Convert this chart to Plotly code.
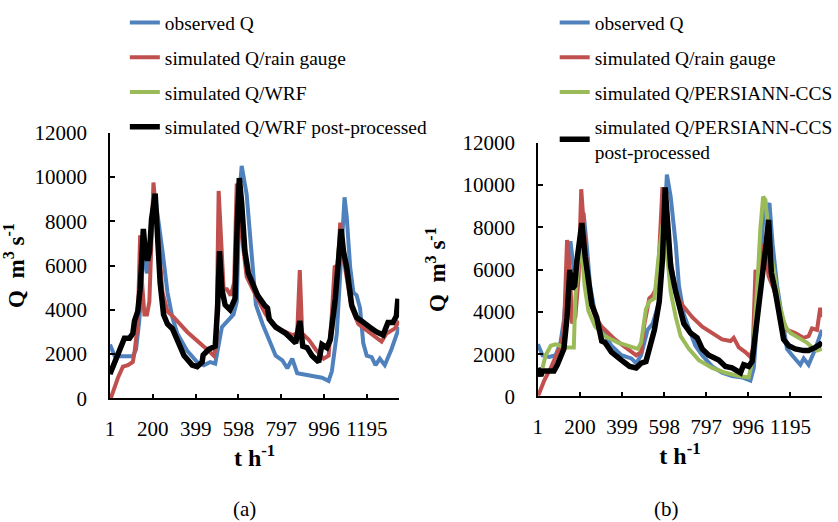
import plotly.graph_objects as go

FONT = "Liberation Serif"
TICK_VALS = [1, 200, 399, 598, 797, 996, 1195]
TICK_TEXT = ["1", "200", "399", "598", "797", "996", "1195"]
Y_TICKS = [0, 2000, 4000, 6000, 8000, 10000, 12000]
Y_TICK_TEXT = ["0", "2000", "4000", "6000", "8000", "10000", "12000"]

# ---------------- Panel (a) ----------------
obs_a_t = [1, 22, 38, 107, 122, 137, 145, 157, 173, 184, 199, 215, 245, 268, 291, 314, 360, 406, 437, 467,
           490, 506, 521, 575, 590, 605, 613, 636, 667, 679, 710, 741, 771, 802, 825, 848, 871, 910, 956, 986,
           1017, 1032, 1055, 1078, 1091, 1101, 1117, 1132, 1147, 1163, 1178, 1194, 1217, 1235, 1255, 1278,
           1309, 1345]
obs_a_q = [2430, 1930, 1900, 1900, 2215, 3500, 4650, 6790, 5650, 6220, 8080, 8800, 6650, 4790, 3650, 2930,
           2145, 1640, 1500, 1640, 1570, 2360, 3220, 3790, 4360, 9500, 10500, 9220, 5220, 4220, 3360, 2650,
           1930, 1720, 1360, 1790, 1140, 1070, 1000, 930, 790, 1220, 2930, 6650, 9080, 8220, 5930, 4790,
           4650, 4080, 2500, 1930, 1860, 1500, 1790, 1500, 2220, 3220]

rg_a_t = [1, 7, 38, 61, 84, 107, 115, 130, 141, 150, 161, 173, 184, 191, 203, 214, 230, 245, 268, 299,
          360, 421, 460, 483, 495, 506, 518, 529, 544, 562, 578, 590, 605, 636, 664, 695, 725, 756, 802,
          848, 871, 883, 894, 925, 956, 994, 1017, 1032, 1045, 1060, 1071, 1081, 1101, 1124, 1155, 1194,
          1232, 1263, 1286, 1324, 1345]
rg_a_q = [100, 70, 930, 1430, 1500, 1640, 2070, 3360, 7360, 5220, 3790, 3790, 4360, 6650, 9750, 8510,
          6650, 4790, 3930, 3650, 3000, 2500, 2145, 1930, 2360, 9370, 6650, 4930, 4930, 4650, 5220, 9700,
          8080, 5500, 4930, 4360, 3790, 3360, 3070, 2860, 2930, 5790, 2930, 2650, 2220, 1790, 1930, 3790,
          5930, 6000, 7940, 6650, 5500, 4080, 3360, 3070, 2790, 2570, 2930, 3150, 3500]

pp_a_t = [1, 22, 53, 68, 92, 107, 115, 130, 141, 150, 156, 165, 176, 185, 194, 211, 222, 234, 250, 268,
          291, 314, 345, 383, 406, 429, 434, 460, 490, 501, 510, 521, 536, 559, 582, 593, 602, 613, 628,
          644, 667, 687, 718, 733, 741, 771, 818, 864, 883, 897, 917, 940, 971, 986, 1009, 1025, 1048,
          1063, 1075, 1086, 1101, 1124, 1147, 1170, 1194, 1217, 1240, 1270, 1293, 1316, 1332, 1339]
pp_a_q = [1100, 1640, 2360, 2720, 2720, 2930, 3500, 3930, 4930, 6650, 7650, 6650, 6220, 6650, 8080, 9250,
          7360, 5220, 3790, 3360, 3150, 2650, 1930, 1500, 1430, 1640, 1960, 2220, 2360, 4080, 6650, 4930,
          4220, 4000, 4500, 8080, 9950, 8800, 6650, 5650, 5080, 4650, 4220, 4080, 3580, 3220, 2930, 2500,
          3500, 2360, 2290, 1930, 1640, 2430, 2290, 2650, 4500, 6650, 7650, 6650, 5930, 4220, 3650, 3500,
          3290, 3150, 3000, 2860, 3430, 3430, 3720, 4500]

# WRF series is hidden underneath the post-processed line in panel (a)
wrf_a_t = list(pp_a_t)
wrf_a_q = list(pp_a_q)

# ---------------- Panel (b) ----------------
obs_b_t = [1, 23, 54, 85, 108, 124, 143, 155, 171, 186, 202, 217, 233, 248, 272, 303, 349, 396, 443, 466,
           489, 520, 544, 575, 595, 611, 629, 653, 668, 691, 723, 746, 778, 825, 872, 919, 967, 1006, 1022,
           1037, 1053, 1069, 1096, 1111, 1132, 1155, 1179, 1203, 1226, 1242, 1258, 1281, 1313, 1344]
obs_b_q = [2470, 1950, 1870, 1950, 2550, 3600, 5990, 7340, 5990, 6440, 7640, 8690, 7040, 5240, 3890, 3150,
           2400, 1950, 1800, 1570, 1950, 3150, 3450, 4490, 7190, 10490, 9440, 7190, 5240, 3890, 3000, 2400,
           1950, 1420, 1120, 970, 900, 750, 1350, 3450, 6440, 8690, 9140, 7190, 5240, 3750, 2250, 1950,
           1650, 1500, 1800, 1500, 2250, 3150]

rg_b_t = [1, 4, 31, 62, 101, 124, 139, 152, 163, 178, 194, 206, 219, 233, 248, 272, 303, 365, 427, 466,
          489, 505, 528, 544, 567, 590, 606, 629, 652, 683, 731, 778, 825, 872, 912, 927, 951, 982, 1006,
          1017, 1030, 1042, 1058, 1077, 1092, 1116, 1147, 1179, 1218, 1258, 1281, 1297, 1321, 1336, 1344]
rg_b_q = [150, 75, 750, 1350, 2250, 3000, 7400, 5990, 3450, 3750, 5690, 9800, 7940, 5990, 4490, 3750,
          3300, 2700, 2250, 1950, 2100, 3450, 4640, 4790, 5240, 9900, 7940, 6440, 4940, 4340, 3750, 3300,
          3000, 2700, 2620, 2770, 2320, 2100, 1870, 2250, 5990, 5540, 7190, 6740, 5690, 5090, 3890, 3150,
          3000, 2770, 2850, 3220, 3150, 4190, 3750]

sat_b_t = [23, 38, 62, 85, 108, 139, 171, 178, 194, 206, 222, 240, 272, 318, 380, 443, 474, 489, 512, 528,
           552, 570, 590, 598, 614, 629, 653, 676, 715, 762, 825, 888, 951, 998, 1014, 1037, 1053, 1066,
           1077, 1092, 1116, 1140, 1171, 1195, 1234, 1273, 1297, 1321, 1344]
sat_b_q = [1350, 1950, 2400, 2470, 2400, 2320, 2320, 4640, 6440, 7190, 5240, 4040, 3300, 2850, 2550, 2320,
           2250, 2550, 4120, 4490, 4640, 6440, 8100, 8200, 6440, 4940, 3750, 2850, 2250, 1720, 1350, 1120,
           970, 900, 1650, 4940, 7940, 9450, 9290, 7490, 5990, 4490, 3300, 3000, 2770, 2550, 2320, 2170,
           2250]

pp_b_t = [1, 15, 23, 46, 77, 93, 108, 124, 139, 152, 163, 175, 186, 209, 225, 240, 256, 279, 295, 303, 318,
          349, 396, 435, 466, 489, 512, 528, 552, 575, 590, 603, 614, 629, 653, 668, 691, 723, 754, 778,
          809, 856, 888, 919, 959, 974, 998, 1014, 1037, 1061, 1080, 1092, 1105, 1124, 1147, 1163, 1187,
          1218, 1258, 1281, 1313, 1336, 1345]
pp_b_q = [1350, 970, 1200, 1200, 1200, 1500, 1950, 2250, 3750, 5990, 5090, 5240, 6440, 8200, 6590, 5240,
          4340, 3750, 3150, 2620, 2550, 2100, 1720, 1420, 1350, 1570, 1650, 2250, 3150, 4490, 6440, 9890,
          7940, 6140, 4940, 4340, 3450, 3000, 2770, 2250, 1950, 1720, 1420, 1350, 1120, 1500, 1420, 1650,
          3450, 5390, 7190, 8350, 5840, 4940, 3750, 2700, 2400, 2250, 2170, 2170, 2320, 2470, 2400]

BLUE = "#4F81BD"
RED = "#C0504D"
GREEN = "#9BBB59"
BLACK = "#000000"

fig = go.Figure()


def add(t, q, name, color, width, xa, ya, legend):
    fig.add_trace(go.Scatter(
        x=t, y=q, mode="lines", name=name,
        line=dict(color=color, width=width),
        xaxis=xa, yaxis=ya, legend=legend, legendgroup=legend + name,
    ))


add(obs_a_t, obs_a_q, "observed Q", BLUE, 4, "x", "y", "legend")
add(rg_a_t, rg_a_q, "simulated Q/rain gauge", RED, 4, "x", "y", "legend")
add(wrf_a_t, wrf_a_q, "simulated Q/WRF", GREEN, 4, "x", "y", "legend")
add(pp_a_t, pp_a_q, "simulated Q/WRF post-processed", BLACK, 5.5, "x", "y", "legend")

add(obs_b_t, obs_b_q, "observed Q", BLUE, 4, "x2", "y2", "legend2")
add(rg_b_t, rg_b_q, "simulated Q/rain gauge", RED, 4, "x2", "y2", "legend2")
add(sat_b_t, sat_b_q, "simulated Q/PERSIANN-CCS", GREEN, 4, "x2", "y2", "legend2")
add(pp_b_t, pp_b_q, "simulated Q/PERSIANN-CCS<br>post-processed", BLACK, 5.5, "x2", "y2", "legend2")

W, H = 838, 522

xax = dict(range=[1, 1345], tickvals=TICK_VALS, ticktext=TICK_TEXT, showline=True, linecolor="black",
           linewidth=1.5, ticks="inside", ticklen=5, tickwidth=1.5, tickcolor="black", showgrid=False,
           zeroline=False, tickfont=dict(family=FONT, size=21, color="black"), ticklabelstandoff=11)
yax = dict(range=[0, 12000], tickvals=Y_TICKS, ticktext=Y_TICK_TEXT, showline=True, linecolor="black",
           linewidth=1.5, ticks="inside", ticklen=5, tickwidth=1.5, tickcolor="black", showgrid=False,
           zeroline=False, tickfont=dict(family=FONT, size=21, color="black"), ticklabelstandoff=17)

xtitle = dict(text="<b>t h<sup>-1</sup></b>", font=dict(family=FONT, size=24, color="black"), standoff=8)
ytitle = dict(text="<b>Q&nbsp; m<sup>3</sup>&nbsp;s<sup>-1</sup></b>",
              font=dict(family=FONT, size=23, color="black"), standoff=10)

fig.update_layout(
    width=W, height=H,
    margin=dict(l=0, r=0, t=0, b=0),
    paper_bgcolor="white", plot_bgcolor="white",
    xaxis=dict(xax, domain=[106 / W, 398 / W], anchor="y", title=xtitle),
    yaxis=dict(yax, domain=[1 - 405 / H, 1 - 126.5 / H], anchor="x", title=ytitle),
    xaxis2=dict(xax, domain=[538 / W, 825 / W], anchor="y2", title=xtitle),
    yaxis2=dict(yax, domain=[1 - 403 / H, 1 - 137 / H], anchor="x2", title=ytitle),
    legend=dict(x=121 / W, y=1 + 9 / H, xanchor="left", yanchor="top", bgcolor="rgba(0,0,0,0)",
                font=dict(family=FONT, size=19.4, color="black"), tracegroupgap=6.5, itemwidth=30),
    legend2=dict(x=555 / W, y=1 + 9 / H, xanchor="left", yanchor="top", bgcolor="rgba(0,0,0,0)",
                 font=dict(family=FONT, size=19.4, color="black"), tracegroupgap=6.5, itemwidth=30),
    annotations=[
        dict(text="(a)", x=242 / W, y=1 - 521 / H, xref="paper", yref="paper", showarrow=False,
             xanchor="center", yanchor="middle", font=dict(family=FONT, size=21, color="black")),
        dict(text="(b)", x=668 / W, y=1 - 521 / H, xref="paper", yref="paper", showarrow=False,
             xanchor="center", yanchor="middle", font=dict(family=FONT, size=21, color="black")),
    ],
)

fig.write_html("out.html")
